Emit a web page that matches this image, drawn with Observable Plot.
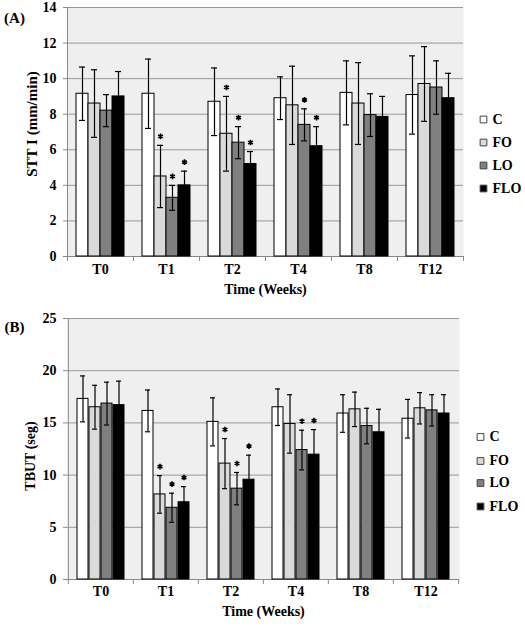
<!DOCTYPE html>
<html>
<head>
<meta charset="utf-8">
<script src="https://cdn.jsdelivr.net/npm/d3@7"></script>
<script src="https://cdn.jsdelivr.net/npm/@observablehq/plot@0.6"></script>
<style>
  body { margin: 0; background: #ffffff; }
  #chart { width: 525px; }
  #chart svg { display: block; font-family: "Liberation Serif", "DejaVu Serif", serif !important; font-weight: bold !important; }
  #chart svg text { font-family: "Liberation Serif", "DejaVu Serif", serif !important; font-weight: bold; }
</style>
</head>
<body>
<div id="chart"></div>
<script>
const times = ["T0", "T1", "T2", "T4", "T8", "T12"];
const groups = ["C", "FO", "LO", "FLO"];
const fills = ["#ffffff", "#dadada", "#808080", "#000000"];

// Panel A: STT I (mm/min)
const sttC   = [9.15, 9.15, 8.7, 8.9, 9.2, 9.08];
const sttFO  = [8.6, 4.5, 6.9, 8.5, 8.6, 9.7];
const sttLO  = [8.2, 3.3, 6.4, 7.4, 7.95, 9.5];
const sttFLO = [9.0, 4.0, 5.2, 6.2, 7.85, 8.9];
const sttSdC   = [1.5, 1.95, 1.9, 1.2, 1.8, 2.2];
const sttSdFO  = [1.9, 1.75, 2.1, 2.2, 2.3, 2.1];
const sttSdLO  = [0.9, 0.7, 0.9, 0.9, 1.2, 1.5];
const sttSdFLO = [1.4, 0.8, 0.7, 1.1, 1.15, 1.4];
const sttStars = [[], ["FO", "LO", "FLO"], ["FO", "LO", "FLO"], ["LO", "FLO"], [], []];
const sttTicks = [0, 2, 4, 6, 8, 10, 12, 14];

// Panel B: TBUT (seg)
const tbutC   = [17.3, 16.15, 15.1, 16.5, 15.9, 15.4];
const tbutFO  = [16.5, 8.15, 11.1, 14.9, 16.3, 16.4];
const tbutLO  = [16.85, 6.87, 8.7, 12.4, 14.7, 16.2];
const tbutFLO = [16.7, 7.4, 9.56, 11.96, 14.1, 15.9];
const tbutSdC   = [2.2, 2.0, 2.3, 1.75, 1.8, 1.85];
const tbutSdFO  = [2.1, 1.8, 2.4, 2.8, 1.65, 1.5];
const tbutSdLO  = [2.05, 1.4, 1.55, 1.9, 1.7, 1.5];
const tbutSdFLO = [2.3, 1.5, 2.35, 2.4, 2.2, 1.8];
const tbutStars = [[], ["FO", "LO", "FLO"], ["FO", "LO", "FLO"], ["LO", "FLO"], [], []];
const tbutTicks = [0, 5, 10, 15, 20, 25];

function rowsFor(means, sds, stars) {
  return times.flatMap((t, j) => groups.map((g, i) => ({
    time: t, group: g, gi: i, mean: means[i][j], sd: sds[i][j],
    star: stars[j].includes(g)
  })));
}

function panel(cfg) {
  const rows = rowsFor(cfg.means, cfg.sds, cfg.stars);
  const half = (cfg.width - cfg.marginLeft - cfg.marginRight) / times.length / 2;
  const marks = [
    Plot.frame({fill: "#efefef", stroke: null}),
    Plot.gridY({ticks: cfg.ticks, stroke: "#999", strokeOpacity: 1}),
    Plot.ruleX([times[0]], {x: d => d, dx: -half, y1: cfg.ticks[0], y2: cfg.ticks[cfg.ticks.length - 1], stroke: "#888"}),
    Plot.ruleY([0], {stroke: "#888"}),
    Plot.axisY({ticks: cfg.ticks, text: null, tickSize: 4, stroke: "#888", label: null}),
    Plot.axisY({ticks: cfg.ticks, tickSize: 0, tickPadding: 11, label: null, fill: "black", fontSize: 14}),
    Plot.axisX({ticks: times, dx: -half, text: null, tickSize: 5, stroke: "#888", label: null}),
    Plot.axisX({ticks: [times[times.length - 1]], dx: half, text: null, tickSize: 5, stroke: "#888", label: null}),
    Plot.axisX({ticks: times, tickSize: 0, tickPadding: cfg.xPad, label: null, fill: "black", fontSize: 14})
  ];
  groups.forEach((g, i) => {
    const sub = rows.filter(d => d.gi === i);
    const off = 12 * i - 18;
    marks.push(
      Plot.barY(sub, {x: "time", y: "mean", fill: fills[i], stroke: "black", strokeWidth: 1,
        insetLeft: 12 * i, insetRight: 36 - 12 * i}),
      Plot.ruleX(sub, {x: "time", y1: d => d.mean - d.sd, y2: d => d.mean + d.sd, dx: off, stroke: "black", strokeWidth: 1.2}),
      Plot.tickY(sub, {x: "time", y: d => d.mean + d.sd, insetLeft: 12 * i + 3, insetRight: 39 - 12 * i, stroke: "black", strokeWidth: 1.2}),
      Plot.tickY(sub, {x: "time", y: d => d.mean - d.sd, insetLeft: 12 * i + 3, insetRight: 39 - 12 * i, stroke: "black", strokeWidth: 1.2}),
      Plot.dot(sub.filter(d => d.star), {x: "time", y: d => d.mean + d.sd, dx: off, dy: -9,
        symbol: "asterisk", r: 2.6, stroke: "black", strokeWidth: 1.6}),
      Plot.dot([g], {frameAnchor: "right", dx: cfg.legDx, dy: cfg.legDy[i], symbol: "square", r: 3.8,
        fill: fills[i], stroke: "#444", strokeWidth: 1}),
      Plot.text([g], {frameAnchor: "right", dx: cfg.legDx + 9, dy: cfg.legDy[i], text: d => d, textAnchor: "start",
        fontSize: 14, fill: "black"})
    );
  });
  marks.push(
    Plot.text([cfg.panelLabel], {frameAnchor: "top-left", dx: -53, dy: cfg.panelDy, text: d => d, textAnchor: "middle", fontSize: 15}),
    Plot.text([cfg.yLabel], {frameAnchor: "left", dx: cfg.yLabelDx, dy: cfg.yLabelDy, rotate: -90, text: d => d, textAnchor: "middle", fontSize: cfg.yLabelSize}),
    Plot.text(["Time (Weeks)"], {frameAnchor: "bottom", dy: cfg.xLabelDy, text: d => d, textAnchor: "middle", fontSize: 14})
  );
  return Plot.plot({
    width: cfg.width,
    height: cfg.height,
    marginTop: cfg.marginTop,
    marginBottom: cfg.marginBottom,
    marginLeft: cfg.marginLeft,
    marginRight: cfg.marginRight,
    style: {fontFamily: "'Liberation Serif', 'DejaVu Serif', serif", fontSize: "14px", fontWeight: "bold", background: "white", color: "black"},
    x: {type: "band", domain: times, paddingInner: 18 / 66, paddingOuter: 9 / 66, label: null},
    y: {domain: [cfg.ticks[0], cfg.ticks[cfg.ticks.length - 1]], label: null},
    marks
  });
}

const chart = document.getElementById("chart");
chart.append(panel({
  width: 525, height: 300, marginTop: 7, marginBottom: 44, marginLeft: 67, marginRight: 62,
  means: [sttC, sttFO, sttLO, sttFLO], sds: [sttSdC, sttSdFO, sttSdLO, sttSdFLO], stars: sttStars,
  ticks: sttTicks, xPad: 8, legDx: 20, legDy: [-12.5, 10.5, 33.5, 56.5],
  panelLabel: "(A)", panelDy: 5, yLabel: "STT I (mm/min)", yLabelSize: 15, yLabelDx: -35, yLabelDy: -8, xLabelDy: 37
}));
chart.append(panel({
  width: 525, height: 329, marginTop: 18, marginBottom: 50, marginLeft: 67, marginRight: 66,
  means: [tbutC, tbutFO, tbutLO, tbutFLO], sds: [tbutSdC, tbutSdFO, tbutSdLO, tbutSdFLO], stars: tbutStars,
  ticks: tbutTicks, xPad: 7, legDx: 21, legDy: [-12, 12, 34, 57.5],
  panelLabel: "(B)", panelDy: 3, yLabel: "TBUT (seg)", yLabelSize: 14, yLabelDx: -37, yLabelDy: 7, xLabelDy: 36
}));
</script>
</body>
</html>
